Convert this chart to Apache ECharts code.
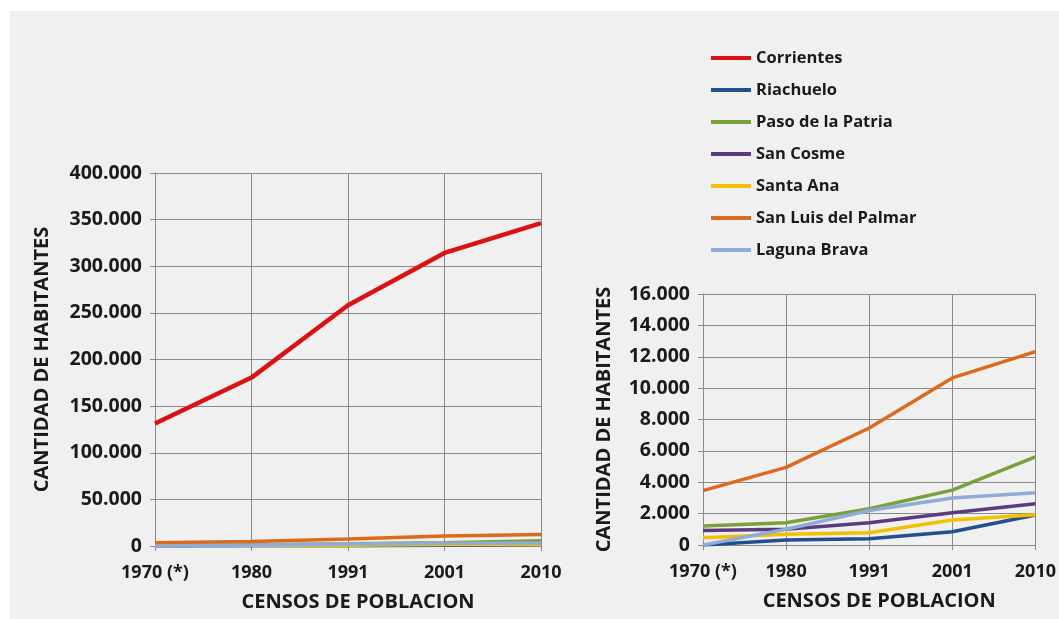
<!DOCTYPE html>
<html>
<head>
<meta charset="utf-8">
<script src="https://cdn.jsdelivr.net/npm/echarts@6/dist/echarts.min.js"></script>
<style>
html,body{margin:0;padding:0;background:#ffffff;}
#chart{width:1059px;height:619px;}
</style>
</head>
<body>
<div id="chart"></div>
<script>
const censos = ['1970 (*)', '1980', '1991', '2001', '2010'];
const seriesNames = ['Corrientes', 'Riachuelo', 'Paso de la Patria', 'San Cosme', 'Santa Ana', 'San Luis del Palmar', 'Laguna Brava'];
const corrientes = [131392, 180612, 258103, 314247, 346334];
const riachuelo = [0, 320, 400, 850, 1910];
const pasoDeLaPatria = [1210, 1420, 2310, 3500, 5610];
const sanCosme = [930, 1000, 1420, 2050, 2630];
const santaAna = [470, 680, 780, 1590, 1930];
const sanLuisDelPalmar = [3470, 4950, 7460, 10650, 12330];
const lagunaBrava = [0, 1000, 2200, 3000, 3330];
const seriesValues = [corrientes, riachuelo, pasoDeLaPatria, sanCosme, santaAna, sanLuisDelPalmar, lagunaBrava];
const seriesColors = ['#dd1111', '#234f8e', '#77a13b', '#5b3b80', '#f4c000', '#dd6a1a', '#8fabd6'];

const FONT = '"Open Sans", "Liberation Sans", sans-serif';
const TXT = '#1a1a1a';
const fmt = v => String(v).replace(/\B(?=(\d{3})+(?!\d))/g, '.');

function xAxisCfg(gridIndex, nameGap) {
  return {
    type: 'category', gridIndex, data: censos, boundaryGap: false,
    name: 'CENSOS DE POBLACION', nameLocation: 'middle', nameGap,
    nameTextStyle: {fontFamily: FONT, fontWeight: 'bold', fontSize: 20, color: TXT, padding: [0, 0, 0, 20]},
    axisLine: {show: true, lineStyle: {color: '#8a8a8a', width: 1}},
    axisTick: {show: true, length: 5, interval: 0, lineStyle: {color: '#8a8a8a'}},
    axisLabel: {fontFamily: FONT, fontWeight: 'bold', fontSize: 18, color: TXT, margin: 18, interval: 0, hideOverlap: false},
    splitLine: {show: true, interval: 0, lineStyle: {color: '#8a8a8a', width: 1}}
  };
}
function yAxisCfg(gridIndex, max, interval, nameGap) {
  return {
    type: 'value', gridIndex, min: 0, max, interval,
    name: 'CANTIDAD DE HABITANTES', nameLocation: 'middle', nameGap,
    nameTextStyle: {fontFamily: FONT, fontWeight: 'bold', fontSize: 20, color: TXT},
    axisLine: {show: true, lineStyle: {color: '#8a8a8a', width: 1}},
    axisTick: {show: true, length: 5, lineStyle: {color: '#8a8a8a'}},
    axisLabel: {fontFamily: FONT, fontWeight: 'bold', fontSize: 19.5, color: TXT, margin: 13, formatter: fmt},
    splitLine: {show: true, lineStyle: {color: '#8a8a8a', width: 1}}
  };
}

const series = [];
seriesNames.forEach((n, i) => {
  series.push({
    name: n, type: 'line', xAxisIndex: 0, yAxisIndex: 0, data: seriesValues[i],
    showSymbol: false, symbol: 'none', color: seriesColors[i],
    lineStyle: {width: i === 0 ? 4.5 : 3.5, color: seriesColors[i]}, z: i === 0 ? 5 : 3
  });
});
seriesNames.forEach((n, i) => {
  if (i === 0) return;
  series.push({
    name: n, type: 'line', xAxisIndex: 1, yAxisIndex: 1, data: seriesValues[i],
    showSymbol: false, symbol: 'none', color: seriesColors[i],
    lineStyle: {width: 3.5, color: seriesColors[i]}, z: i === 5 ? 5 : 3
  });
});

const chart = echarts.init(document.getElementById('chart'), null, {renderer: 'canvas'});
chart.setOption({
  backgroundColor: '#ffffff',
  animation: false,
  graphic: [{type: 'rect', left: 10, top: 11, shape: {width: 1049, height: 608}, style: {fill: '#f0f0f0'}, z: -10, silent: true}],
  grid: [
    {left: 155, right: 518, top: 173, bottom: 73},
    {left: 703, right: 20, top: 294, bottom: 74}
  ],
  xAxis: [xAxisCfg(0, 46), xAxisCfg(1, 46)],
  yAxis: [yAxisCfg(0, 400000, 50000, 103), yAxisCfg(1, 16000, 2000, 89)],
  legend: {
    orient: 'vertical', left: 706, top: 43, data: seriesNames,
    icon: 'rect', itemWidth: 40, itemHeight: 4, itemGap: 12,
    textStyle: {fontFamily: FONT, fontWeight: 'bold', fontSize: 16.5, color: TXT, lineHeight: 20}
  },
  series
});
</script>
</body>
</html>
